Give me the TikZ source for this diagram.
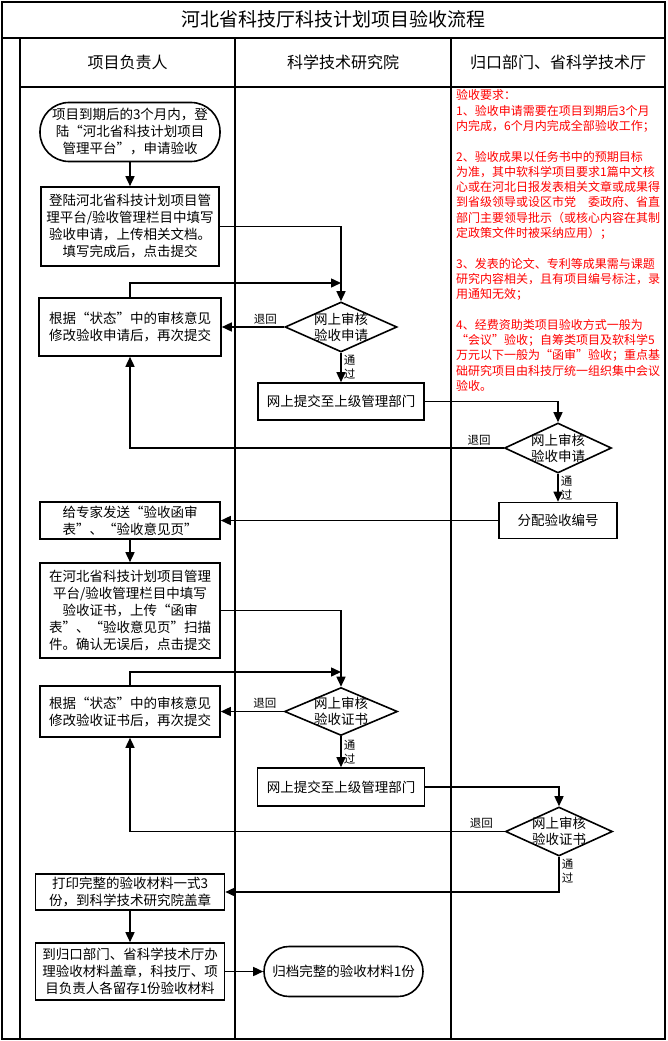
\documentclass[tikz,border=0pt]{standalone}
\usepackage{fontspec}
\setmainfont{Noto Sans CJK SC}
\usetikzlibrary{arrows.meta,shapes.geometric}
\begin{document}
\begin{tikzpicture}[x=1pt,y=-1pt,
  frame/.style={line width=2pt},
  grid/.style={line width=1.2pt},
  box/.style={draw,line width=1.6pt,rectangle,inner sep=0pt,align=center,font=\fontsize{13.5}{17}\selectfont},
  dia/.style={draw,line width=1.6pt,diamond,inner sep=0pt},
  dtext/.style={align=center,font=\fontsize{13.5}{16}\selectfont},
  conn/.style={line width=1.5pt,-{Triangle[length=10pt,width=9pt]}},
  lbl/.style={font=\fontsize{11.5}{14}\selectfont,inner sep=2pt},
  hdr/.style={font=\fontsize{16}{18}\selectfont},
  note/.style={text=red,align=left,inner sep=0pt,anchor=north west,font=\fontsize{12}{15.3}\selectfont}
  ]
\useasboundingbox (0,0) rectangle (667,1041);
% frame and lanes
\draw[frame] (2,2) rectangle (665,1039);
\draw[frame] (2,38) -- (665,38);
\draw[grid] (20,38) -- (20,1039);
\draw[grid] (235,38) -- (235,1039);
\draw[grid] (451,38) -- (451,1039);
\draw[grid] (20,87) -- (665,87);
\node[font=\fontsize{19}{22}\selectfont] (title) at (333.5,19) {河北省科技厅科技计划项目验收流程};
\node[hdr] (h1) at (127.5,62) {项目负责人};
\node[hdr] (h2) at (343,62) {科学技术研究院};
\node[hdr] (h3) at (558,62) {归口部门、省科学技术厅};
% notes
\node[note] (notes) at (456,89.5) {验收要求：\\
1、验收申请需要在项目到期后3个月\\
内完成，6个月内完成全部验收工作；\\[15.3pt]
2、验收成果以任务书中的预期目标\\
为准，其中软科学项目要求1篇中文核\\
心或在河北日报发表相关文章或成果得\\
到省级领导或设区市党　委政府、省直\\
部门主要领导批示（或核心内容在其制\\
定政策文件时被采纳应用）；\\[15.3pt]
3、发表的论文、专利等成果需与课题\\
研究内容相关，且有项目编号标注，录\\
用通知无效；\\[15.3pt]
4、经费资助类项目验收方式一般为\\
“会议”验收；自筹类项目及软科学5\\
万元以下一般为“函审”验收；重点基\\
础研究项目由科技厅统一组织集中会议\\
验收。};
% nodes
\node[box,minimum width=180,minimum height=59,rounded corners=29pt] (start) at (130,132)
  {项目到期后的3个月内，登\\陆“河北省科技计划项目\\管理平台”，申请验收};
\node[box,minimum width=178,minimum height=79] (b1) at (130,226.5)
  {登陆河北省科技计划项目管\\理平台/验收管理栏目中填写\\验收申请，上传相关文档。\\填写完成后，点击提交};
\node[box,minimum width=182,minimum height=58] (b2) at (130,327)
  {根据“状态”中的审核意见\\修改验收申请后，再次提交};
\node[dia,minimum width=112,minimum height=50,label={[dtext]center:网上审核\\验收申请}] (d1) at (341,327) {};
\node[box,minimum width=166,minimum height=37] (b3) at (341,401.5) {网上提交至上级管理部门};
\node[dia,minimum width=107,minimum height=50,label={[dtext]center:网上审核\\验收申请}] (d2) at (558,448) {};
\node[box,minimum width=118,minimum height=36] (b4) at (558,520.5) {分配验收编号};
\node[box,minimum width=180,minimum height=37] (b5) at (130,520.5)
  {给专家发送“验收函审\\表”、“验收意见页”};
\node[box,minimum width=180,minimum height=95] (b6) at (130,610.5)
  {在河北省科技计划项目管理\\平台/验收管理栏目中填写\\验收证书，上传“函审\\表”、“验收意见页”扫描\\件。确认无误后，点击提交};
\node[box,minimum width=180,minimum height=51] (b7) at (130,711.5)
  {根据“状态”中的审核意见\\修改验收证书后，再次提交};
\node[dia,minimum width=113,minimum height=48,label={[dtext]center:网上审核\\验收证书}] (d3) at (341,711.5) {};
\node[box,minimum width=167,minimum height=38] (b8) at (341,787) {网上提交至上级管理部门};
\node[dia,minimum width=107,minimum height=49,label={[dtext]center:网上审核\\验收证书}] (d4) at (559,831.5) {};
\node[box,minimum width=189,minimum height=36] (b9) at (130,892)
  {打印完整的验收材料一式3\\份，到科学技术研究院盖章};
\node[box,minimum width=189,minimum height=57] (b10) at (130,971.5)
  {到归口部门、省科学技术厅办\\理验收材料盖章，科技厅、项\\目负责人各留存1份验收材料};
\node[box,minimum width=159,minimum height=50,rounded corners=25pt] (end) at (343.5,971.5)
  {归档完整的验收材料1份};
\coordinate (j1) at (341,283);
\coordinate (j2) at (341,672);
% connectors
\draw[conn] (start) -- (b1);
\draw[conn] (b1.east) -| (d1.north);
\draw[conn] (b2.north) |- (j1);
\draw[conn] (d1.west) -- node[lbl,above,pos=0.3]{退回} (b2.east);
\draw[conn] (d1.south) -- node[lbl,right,align=center]{通\\过} (b3.north);
\draw[conn] (b3.east) -| (d2.north);
\draw[conn] (d2.west) -| node[lbl,above,pos=0.033]{退回} (b2.south);
\draw[conn] (d2.south) -- node[lbl,right,align=center]{通\\过} (b4.north);
\draw[conn] (b4.west) -- (b5.east);
\draw[conn] (b5) -- (b6);
\draw[conn] (b6.east) -| (d3.north);
\draw[conn] (b7.north) |- (j2);
\draw[conn] (d3.west) -- node[lbl,above,pos=0.3]{退回} (b7.east);
\draw[conn] (d3.south) -- node[lbl,right,align=center]{通\\过} (b8.north);
\draw[conn] (b8.east) -| (d4.north);
\draw[conn] (d4.west) -| node[lbl,above,pos=0.031]{退回} (b7.south);
\draw[conn] (d4.south) |- node[lbl,right,align=center,pos=0.2]{通\\过} (b9.east);
\draw[conn] (b9) -- (b10);
\draw[conn] (b10) -- (end);
\end{tikzpicture}
\end{document}
